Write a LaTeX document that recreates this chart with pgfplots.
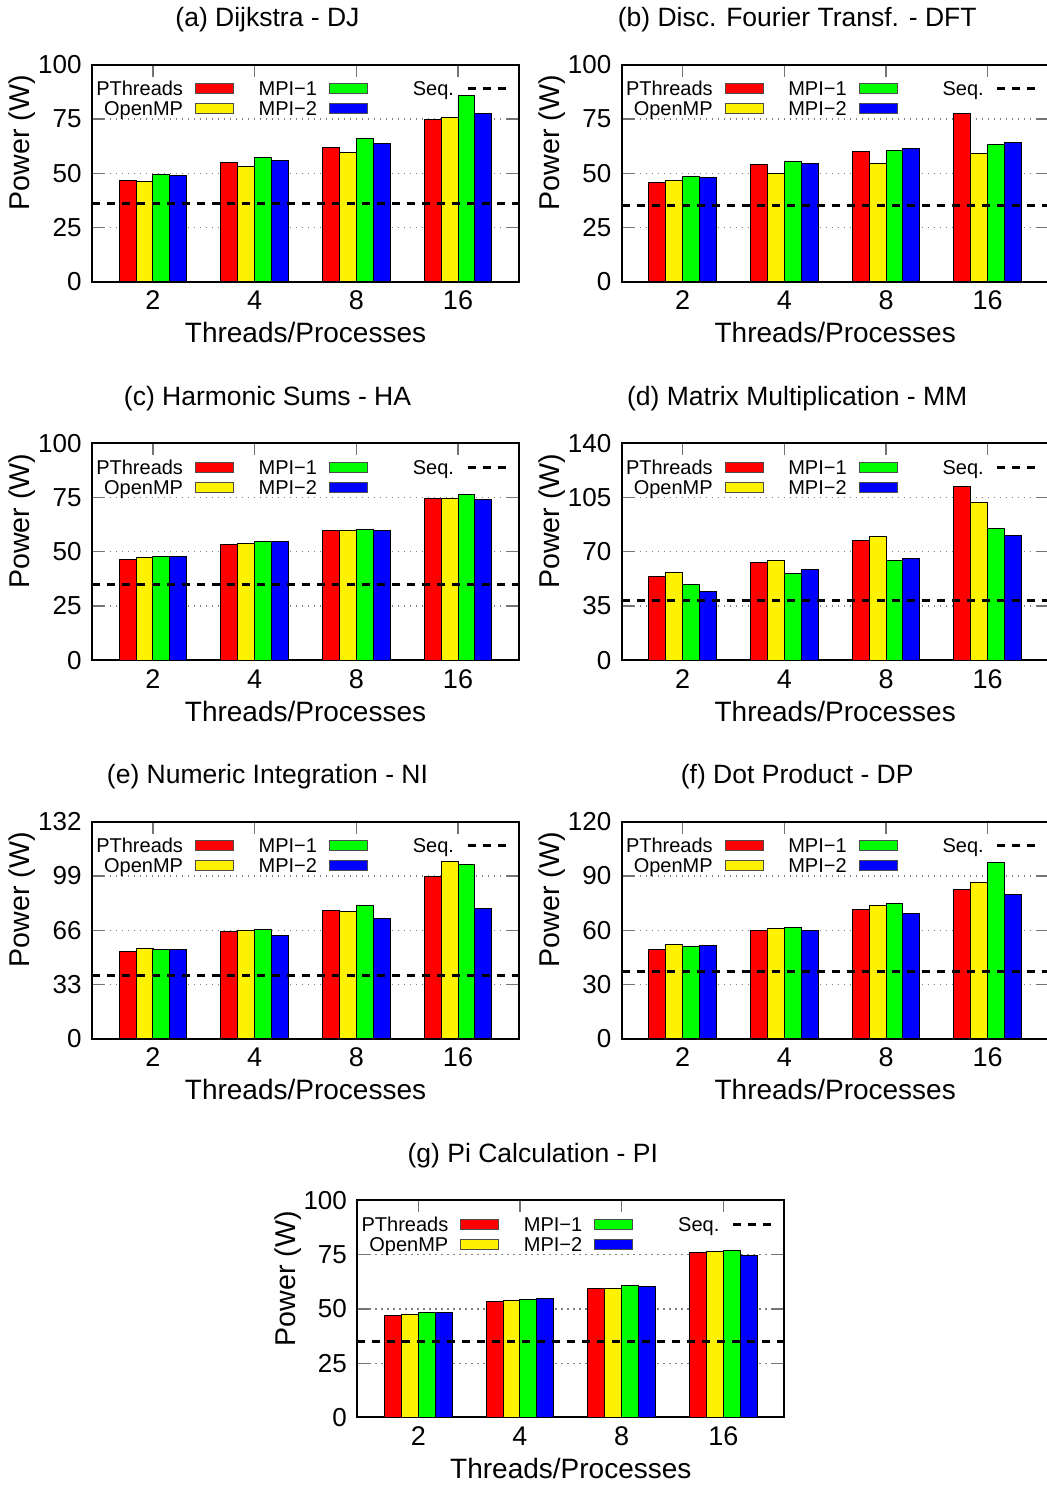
\documentclass[border=0pt]{standalone}
\usepackage{fontspec}
\setmainfont{Liberation Sans}
\usepackage{pgfplots}
\usepackage{pgfplotstable}
\pgfplotsset{compat=1.18}

% Power (W) per benchmark: columns are PThreads, OpenMP, MPI-1, MPI-2
\pgfplotstableread{
x pt omp mpia mpib
0 46.6 46.2 49.5 48.9
1 54.8 53.1 57.2 55.8
2 61.8 59.7 66.0 63.7
3 74.8 75.5 85.7 77.3
}\tabDJ
\pgfplotstableread{
x pt omp mpia mpib
0 45.9 46.8 48.3 48.2
1 54.1 49.8 55.2 54.6
2 60.1 54.3 60.6 61.3
3 77.6 59.0 63.2 64.1
}\tabDFT
\pgfplotstableread{
x pt omp mpia mpib
0 46.3 47.1 47.7 47.7
1 53.5 54.0 54.5 54.5
2 59.6 59.6 60.0 59.7
3 74.5 74.7 76.2 74.1
}\tabHA
\pgfplotstableread{
x pt omp mpia mpib
0 54.2 56.8 49.0 44.5
1 63.3 64.1 56.2 58.5
2 77.1 80.1 64.6 65.7
3 112.1 101.9 84.7 80.3
}\tabMM
\pgfplotstableread{
x pt omp mpia mpib
0 52.8 55.1 54.5 54.5
1 65.0 65.9 66.5 62.6
2 77.8 77.4 81.1 73.0
3 98.6 107.7 105.7 79.1
}\tabNI
\pgfplotstableread{
x pt omp mpia mpib
0 49.2 52.3 50.8 51.4
1 59.7 60.8 61.7 59.7
2 71.3 73.4 74.7 69.1
3 82.4 86.3 97.4 79.7
}\tabDP
\pgfplotstableread{
x pt omp mpia mpib
0 47.1 47.5 48.3 48.5
1 53.5 54.0 54.3 54.9
2 59.4 59.5 60.8 60.5
3 76.2 76.6 76.8 74.6
}\tabPI

\pgfplotsset{
  barleg/.style={legend image code/.code={\draw[##1] (0pt,-2.5pt) rectangle (19pt,2.5pt);}},
  seqleg/.style={legend image code/.code={\draw[##1] (0pt,0pt) -- (19pt,0pt);}},
  bars/.style={ybar, bar width=0.1667, draw=black, line width=0.5pt, forget plot},
  seqline/.style={black, line width=1.5pt, dash pattern=on 4pt off 3.5pt, forget plot},
  panel/.style={
    scale only axis, width=213.5pt, height=108.5pt,
    xmin=-0.6, xmax=3.6, ymin=0,
    xtick={0,1,2,3}, xticklabels={2,4,8,16},
    ymajorgrids,
    major grid style={gray, line width=0.6pt, dash pattern=on 0.7pt off 2.3pt},
    axis line style={black, line width=1pt},
    tick style={black!55, line width=0.6pt},
    major tick length=6pt, tick align=inside,
    xtick pos=both, ytick pos=both,
    /pgf/number format/assume math mode=true,
    yticklabel style={anchor=east, inner sep=0pt, xshift=-5pt, font=\fontsize{13}{13}\selectfont},
    xticklabel style={anchor=north, inner sep=0pt, yshift=-4.5pt, font=\fontsize{13.5}{13.5}\selectfont},
    ylabel={Power (W)},
    xlabel={Threads/Processes},
    ylabel style={at={(axis description cs:-0.1628,0.64)}, anchor=center, font=\fontsize{14.3}{14.3}\selectfont},
    xlabel style={at={(axis description cs:0.5,0)}, anchor=base, yshift=-30.5pt, font=\fontsize{14}{14}\selectfont},
    title style={at={(axis description cs:0.411,1)}, anchor=base, yshift=13pt, font=\fontsize{13.25}{13.25}\selectfont},
    legend columns=3, legend plot pos=right,
    legend style={
      draw=none, fill=none, inner sep=0pt, outer sep=0pt,
      at={(rel axis cs:0,1)}, anchor=north west, xshift=2.15pt, yshift=-7pt,
      font=\fontsize{10}{10}\selectfont,
      cells={anchor=east},
      nodes={inner sep=0pt, text height=8.6pt, text depth=1.4pt},
      /tikz/column sep=0pt, /tikz/row sep=0pt,
      /tikz/column 1/.style={column sep=6pt},
      /tikz/column 2/.style={column sep=12.3pt},
      /tikz/column 3/.style={column sep=6pt},
      /tikz/column 4/.style={column sep=22.45pt},
      /tikz/column 5/.style={column sep=6pt},
    },
  },
}

% #1,#2: lower left corner, #3 title, #4 table, #5 ymax, #6 tick step, #7 sequential power
\newcommand\panel[7]{%
\begin{axis}[panel, at={(#1,#2)}, anchor=south west, title={#3},
  ymax=#5, ytick={0,#6,...,#5}]
  \addlegendimage{barleg, fill=red, draw=black!70, line width=0.5pt}\addlegendentry{PThreads}
  \addlegendimage{barleg, fill=green, draw=black!70, line width=0.5pt}\addlegendentry{MPI−1}
  \addlegendimage{seqleg, black, line width=1.5pt, dash pattern=on 4pt off 3.5pt}\addlegendentry{Seq.}
  \addlegendimage{barleg, fill=yellow, draw=black!70, line width=0.5pt}\addlegendentry{OpenMP}
  \addlegendimage{barleg, fill=blue, draw=black!70, line width=0.5pt}\addlegendentry{MPI−2}
  \addplot[bars, fill=red, bar shift=-0.25] table[x=x, y=pt] {#4};
  \addplot[bars, fill=yellow, bar shift=-0.0833] table[x=x, y=omp] {#4};
  \addplot[bars, fill=green, bar shift=0.0833] table[x=x, y=mpia] {#4};
  \addplot[bars, fill=blue, bar shift=0.25] table[x=x, y=mpib] {#4};
  \addplot[seqline] coordinates {(-0.6,#7) (3.6,#7)};
\end{axis}}

\begin{document}
\begin{tikzpicture}
\useasboundingbox (0,0) rectangle (523.5pt,743pt);
\panel{46pt}{602.15pt}{(a) Dijkstra - DJ}{\tabDJ}{100}{25}{36.2}
\panel{310.85pt}{602.15pt}{(b) Disc. Fourier Transf. - DFT}{\tabDFT}{100}{25}{35.0}
\panel{46pt}{412.9pt}{(c) Harmonic Sums - HA}{\tabHA}{100}{25}{34.9}
\panel{310.85pt}{412.9pt}{(d) Matrix Multiplication - MM}{\tabMM}{140}{35}{38.7}
\panel{46pt}{223.65pt}{(e) Numeric Integration - NI}{\tabNI}{132}{33}{38.2}
\panel{310.85pt}{223.65pt}{(f) Dot Product - DP}{\tabDP}{120}{30}{37.2}
\panel{178.65pt}{34.25pt}{(g) Pi Calculation - PI}{\tabPI}{100}{25}{35.1}
\end{tikzpicture}
\end{document}
